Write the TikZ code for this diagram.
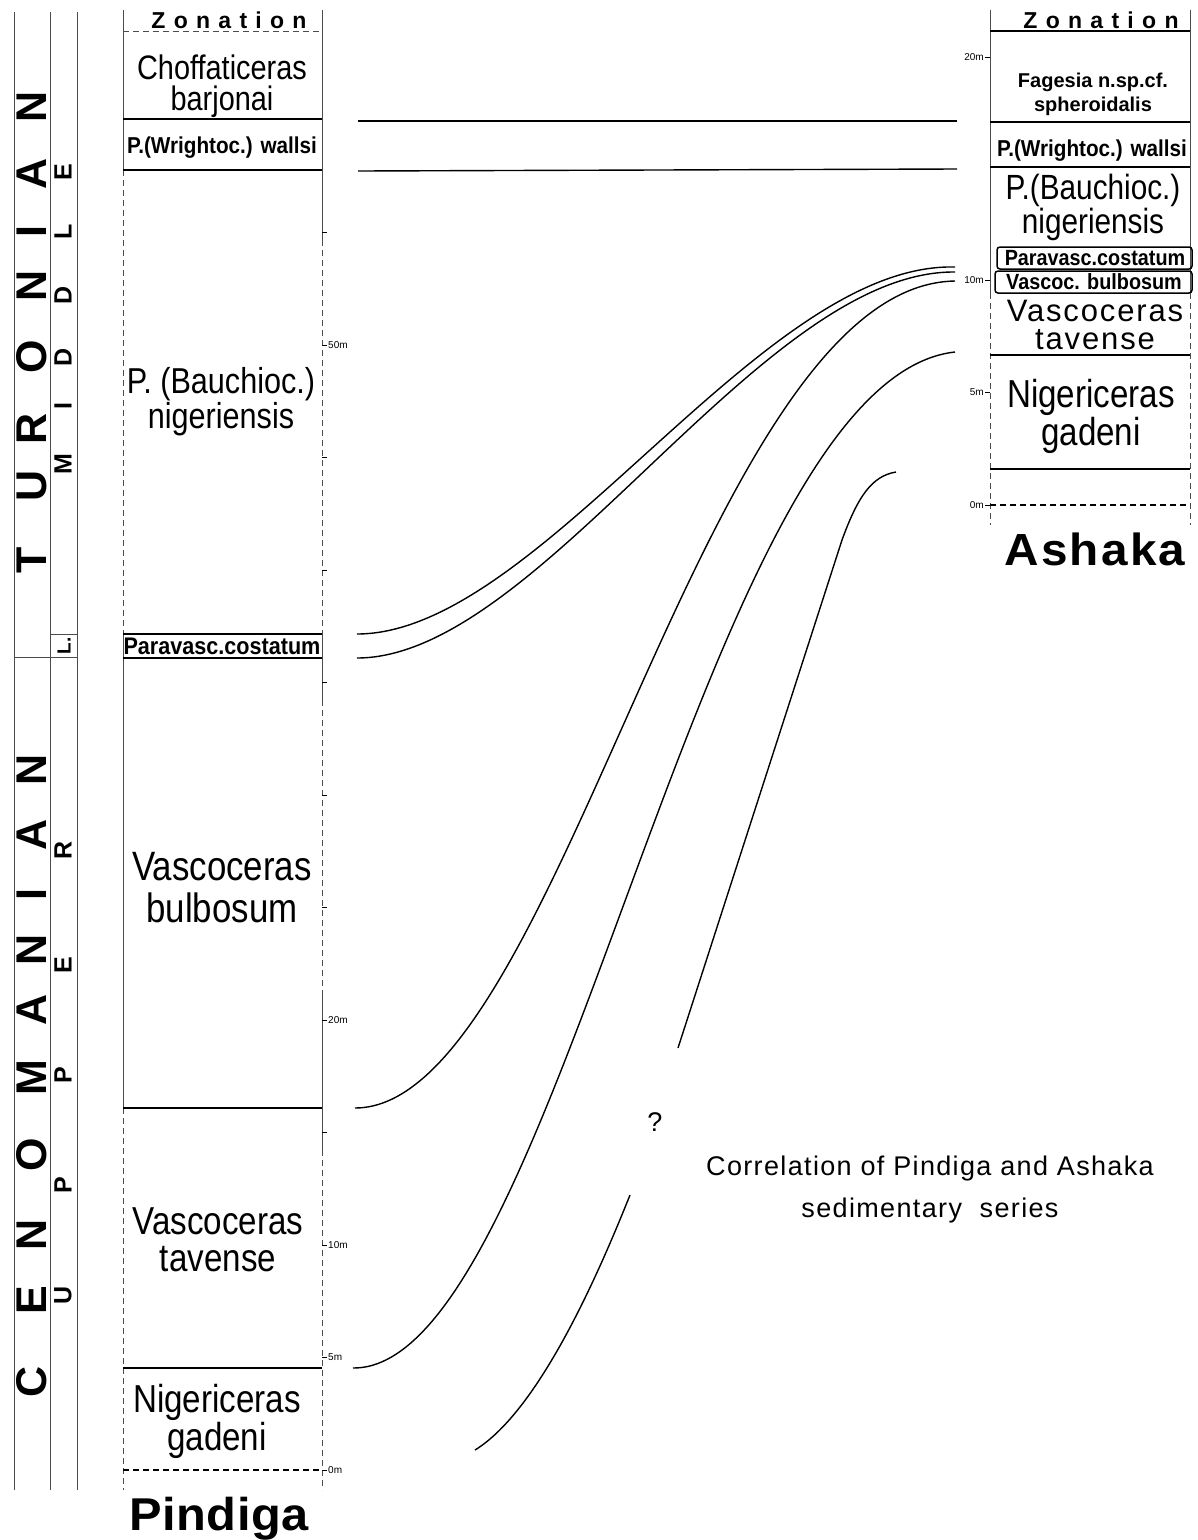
\documentclass[tikz,border=0pt]{standalone}
\usepackage{fontspec}
\setmainfont{Liberation Sans}
\newfontfamily\ltf{Liberation Sans}[FakeStretch=0.85]
\newfontfamily\ltw{Liberation Sans}[LetterSpace=6]
\newfontfamily\ttlf{Liberation Sans}[LetterSpace=5]
\newfontfamily\bdc{Liberation Sans}[FakeStretch=0.9]
\newfontfamily\zonf{Liberation Sans}[LetterSpace=36]
\newfontfamily\pnamef{Liberation Sans}[FakeStretch=1.06, LetterSpace=1]
\newfontfamily\anamef{Liberation Sans}[FakeStretch=1.06, LetterSpace=5]
\newcommand\fsz[1]{\fontsize{#1}{#1}\selectfont}
\newcommand\fszb[2]{\fontsize{#1}{#2}\selectfont}
\begin{document}
\begin{tikzpicture}[x=1pt,y=-1pt,
  col/.style={draw=black!70, line width=0.8pt},
  dcol/.style={col, dash pattern=on 6pt off 4pt},
  zone/.style={draw=black, line width=1.5pt},
  corr/.style={draw=black, line width=1.4pt},
  tick/.style={draw=black, line width=0.9pt},
  txt/.style={inner sep=0pt, anchor=base},
  two/.style={inner sep=0pt, anchor=base, align=center},
  stg/.style={inner sep=0pt, rotate=90, font=\fsz{43}\bfseries},
  sub/.style={inner sep=0pt, rotate=90, font=\fsz{25}\bfseries},
  scl/.style={inner sep=0pt, font=\fsz{10}},
]
\useasboundingbox (0,0) rectangle (1198,1540);

% ---------- stage columns ----------
\draw[col] (14,12) -- (14,1490);
\draw[col] (50,12) -- (50,1490);
\draw[col] (77,12) -- (77,1490);
\draw[col] (14,657) -- (77,657);
\draw[col] (50,634) -- (77,634);
\foreach \l/\y [count=\i] in {T/560,U/486,R/429,O/357,N/286,I/232,A/174,N/107}
  \node[stg] (tu\i) at (32,\y) {\l};
\foreach \l/\y [count=\i] in {C/1382,E/1300,N/1235,O/1155,M/1078,A/1010,N/950,I/895,A/835,N/770}
  \node[stg] (ce\i) at (32,\y) {\l};
\foreach \l/\y [count=\i] in {M/464,I/406,D/357,D/295,L/232,E/172}
  \node[sub] (mi\i) at (63,\y) {\l};
\foreach \l/\y [count=\i] in {U/1295,P/1185,P/1075,E/965,R/850}
  \node[sub] (up\i) at (63,\y) {\l};
\node[sub, font=\fsz{19}\bfseries] (lo) at (64,646) {L.};

% ---------- Pindiga column ----------
\draw[col] (123,10) -- (123,170);
\draw[dcol] (123,170) -- (123,634);
\draw[col] (123,634) -- (123,1108);
\draw[dcol] (123,1108) -- (123,1490);
\draw[col] (322,10) -- (322,240);
\draw[dcol] (322,240) -- (322,634);
\draw[col] (322,634) -- (322,700);
\draw[dcol] (322,700) -- (322,990);
\draw[col] (322,990) -- (322,1150);
\draw[dcol] (322,1150) -- (322,1490);
\draw[dcol] (123,31) -- (322,31);
\foreach \y in {119,170,634,658,1108,1368}
  \draw[zone] (123,\y) -- (322,\y);
\draw[dcol, line width=1.1pt, draw=black] (123,1470) -- (322,1470);
\foreach \y in {232.5,345,457.5,570,682.5,795,907.5,1020,1132.5,1245,1357.5,1470}
  \draw[tick] (322,\y) -- (327,\y);
\foreach \t/\y [count=\i] in {50m/345,20m/1020,10m/1245,5m/1357.5,0m/1470}
  \node[scl, anchor=west] (ps\i) at (328,\y) {\t};

\node[txt, font=\zonf\bfseries\fsz{23}] (pzo) at (229,28) {Zonation};
\node[two, font=\ltf\fszb{34}{31}] (pch) at (222,110) {Choffaticeras\\barjonai};
\node[txt, font=\bdc\bfseries\fsz{23}] (pwa) at (222,153) {P.(Wrightoc.) wallsi};
\node[two, font=\ltf\fszb{36}{32}] (pba) at (221,428) {P. (Bauchioc.)\\nigeriensis};
\node[txt, font=\bdc\bfseries\fsz{24}] (pco) at (222,654) {Paravasc.costatum};
\node[two, font=\ltf\fszb{41}{42}] (pvb) at (222,922) {Vascoceras\\bulbosum};
\node[two, font=\ltf\fszb{39}{37}] (pvt) at (218,1271) {Vascoceras\\tavense};
\node[two, font=\ltf\fszb{39}{34}] (png) at (217,1450) {Nigericeras\\gadeni};
\node[txt, font=\pnamef\bfseries\fsz{46}] (pname) at (219,1530) {Pindiga};

% ---------- Ashaka column ----------
\draw[col] (990,10) -- (990,293);
\draw[dcol] (990,293) -- (990,525);
\draw[col] (1190,10) -- (1190,293);
\draw[dcol] (1190,293) -- (1190,525);
\draw[zone] (990,31) -- (1190,31);
\foreach \y in {122,167,355,469}
  \draw[zone] (990,\y) -- (1190,\y);
\draw[dcol, line width=1.1pt, draw=black] (990,505) -- (1190,505);
\draw[zone, rounded corners=3pt] (997,247) rectangle (1192,269);
\draw[zone, rounded corners=3pt] (995,271) rectangle (1192,293);
\foreach \y in {57,280,392.5,505}
  \draw[tick] (985,\y) -- (990,\y);
\foreach \t/\y [count=\i] in {20m/57,10m/280,5m/392.5,0m/505}
  \node[scl, anchor=east] (as\i) at (984,\y) {\t};

\node[txt, font=\zonf\bfseries\fsz{23}] (azo) at (1101,28) {Zonation};
\node[two, font=\bfseries\fszb{20}{24}] (afa) at (1093,111) {Fagesia n.sp.cf.\\spheroidalis};
\node[txt, font=\bdc\bfseries\fsz{23}] (awa) at (1092,156) {P.(Wrightoc.) wallsi};
\node[two, font=\ltf\fszb{35}{31}] (aba) at (1093,233) {P.(Bauchioc.)\\nigeriensis};
\node[txt, font=\bdc\bfseries\fsz{22}] (aco) at (1095,265) {Paravasc.costatum};
\node[txt, font=\bdc\bfseries\fsz{22}] (avb) at (1094,289) {Vascoc. bulbosum};
\node[two, font=\ltw\fszb{31}{28}] (avt) at (1095,349) {Vascoceras\\tavense};
\node[two, font=\ltf\fszb{39}{35}] (ang) at (1091,445) {Nigericeras\\gadeni};
\node[txt, font=\anamef\bfseries\fsz{45}] (aname) at (1095,565) {Ashaka};

% ---------- correlation lines ----------
\coordinate (p1) at (358,121);  \coordinate (a1) at (957,121);
\coordinate (p2) at (358,171);  \coordinate (a2) at (957,169);
\coordinate (p3) at (357,634);  \coordinate (a3) at (955,267);
\coordinate (p4) at (357,658);  \coordinate (a4) at (955,272);
\coordinate (p5) at (355,1108); \coordinate (a5) at (955,281);
\coordinate (p6) at (353,1368); \coordinate (a6) at (955,352);
\coordinate (q1) at (475,1450); \coordinate (q2) at (630,1195);
\coordinate (q3) at (678,1048); \coordinate (q4) at (896,472);
\draw[corr] (p1) -- (a1);
\draw[corr] (p2) -- (a2);
\draw[corr] (p3) .. controls (540,634) and (760,262) .. (a3);
\draw[corr] (p4) .. controls (540,658) and (760,270) .. (a4);
\draw[corr] (p5) .. controls (560,1108) and (700,285) .. (a5);
\draw[corr] (p6) .. controls (560,1370) and (700,380) .. (a6);
\draw[corr] (q1) .. controls (540,1410) and (600,1270) .. (q2);
\draw[corr] (q3) -- (842,540) .. controls (858,496) and (872,476) .. (q4);

\node[txt, font=\fsz{27}] (qm) at (655,1131) {?};
\node[two, font=\ttlf\fszb{27}{42}] (tt) at (930,1217) {Correlation of Pindiga and Ashaka\\sedimentary\ \ series};
\end{tikzpicture}
\end{document}
